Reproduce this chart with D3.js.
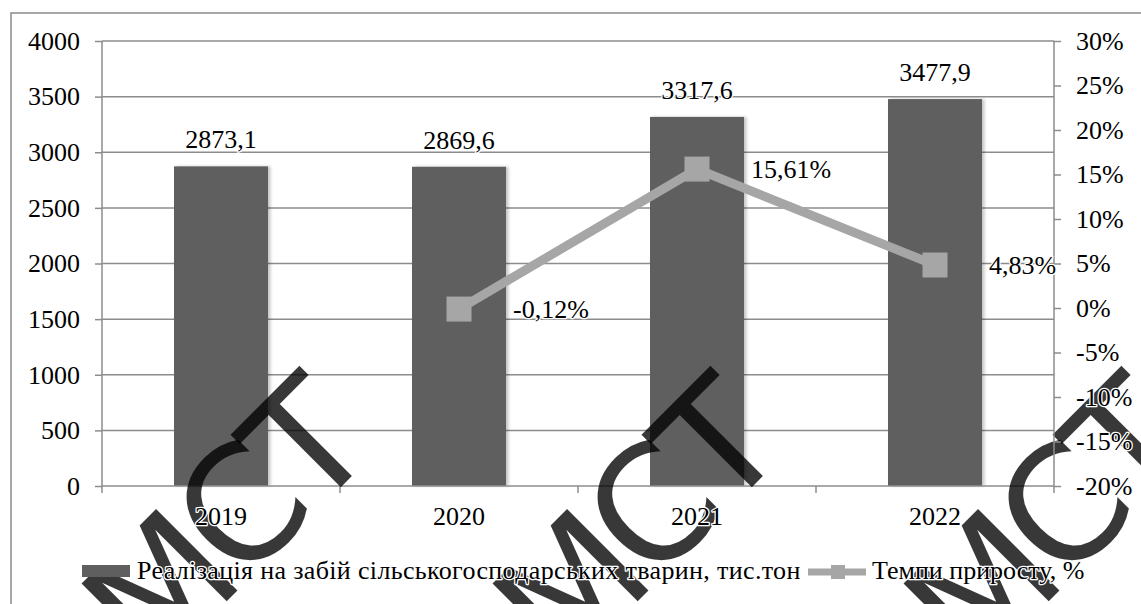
<!DOCTYPE html>
<html>
<head>
<meta charset="utf-8">
<script src="https://cdn.jsdelivr.net/npm/d3@7/dist/d3.min.js"></script>
<style>
  html, body { margin: 0; padding: 0; background: #ffffff; }
  svg { display: block; }
</style>
</head>
<body>
<svg id="chart" width="1141" height="604"></svg>
<script>
// ---- data ----
const years = ["2019", "2020", "2021", "2022"];
const slaughterValues = [2873.1, 2869.6, 3317.6, 3477.9];
const growthRates = [null, -0.12, 15.61, 4.83];
const leftTicks = [0, 500, 1000, 1500, 2000, 2500, 3000, 3500, 4000];
const rightTicks = [-20, -15, -10, -5, 0, 5, 10, 15, 20, 25, 30];
const seriesNames = ["Реалізація на забій сільськогосподарських тварин, тис.тон", "Темпи приросту, %"];
const watermarkText = "МСТ";
const watermarkCount = 3;

// ---- layout ----
const W = 1141, H = 604;
const plot = { left: 102, right: 1054, top: 41, bottom: 486 };
const FONT = "'Liberation Serif', 'Times New Roman', serif";
const FS = 26;
const gridColor = "#8c8c8c";
const barColor = "#5f5f5f";
const lineColor = "#a6a6a6";

const svg = d3.select("#chart");

const defs = svg.append("defs");
const f = defs.append("filter").attr("id", "shadow").attr("x", "-10%").attr("y", "-5%").attr("width", "130%").attr("height", "110%");
f.append("feDropShadow").attr("dx", 2.5).attr("dy", 0).attr("stdDeviation", 1.5)
  .attr("flood-color", "#000").attr("flood-opacity", 0.22);

// outer chart-area border (left and top visible)
svg.append("path")
  .attr("d", `M11,${H + 5} L11,13 L${W + 5},13`)
  .attr("fill", "none").attr("stroke", gridColor).attr("stroke-width", 1.5);

const x = d3.scaleBand().domain(years).range([plot.left, plot.right]).padding(0);
const yL = d3.scaleLinear().domain([0, 4000]).range([plot.bottom, plot.top]);
const yR = d3.scaleLinear().domain([-20, 30]).range([plot.bottom, plot.top]);

// gridlines
svg.append("g").selectAll("line").data(leftTicks.filter(d => d > 0)).join("line")
  .attr("x1", plot.left).attr("x2", plot.right)
  .attr("y1", d => yL(d)).attr("y2", d => yL(d))
  .attr("stroke", gridColor).attr("stroke-width", 1.5);

// bars
const barW = x.bandwidth() * 0.395;
svg.append("g").selectAll("rect").data(years).join("rect")
  .attr("x", d => x(d) + (x.bandwidth() - barW) / 2)
  .attr("width", barW)
  .attr("y", (d, i) => yL(slaughterValues[i]))
  .attr("height", (d, i) => yL(0) - yL(slaughterValues[i]))
  .attr("fill", barColor)
  .attr("filter", "url(#shadow)");

// left axis
const axL = svg.append("g").attr("transform", `translate(${plot.left},0)`)
  .call(d3.axisLeft(yL).tickValues(leftTicks).tickSize(7).tickPadding(15).tickFormat(d3.format("d")));
// right axis
const axR = svg.append("g").attr("transform", `translate(${plot.right},0)`)
  .call(d3.axisRight(yR).tickValues(rightTicks).tickSize(7).tickPadding(15).tickFormat(d => String(d) + "%"));
[axL, axR].forEach(ax => {
  ax.select(".domain").attr("stroke", gridColor).attr("stroke-width", 1.5);
  ax.selectAll(".tick line").attr("stroke", gridColor).attr("stroke-width", 1.5);
  ax.selectAll(".tick text").attr("class", "lbl");
});
axL.select(".domain").attr("d", `M0,${plot.top}V${plot.bottom}`);
axR.select(".domain").attr("d", `M0,${plot.top}V${plot.bottom}`);

// bottom axis
const bx = svg.append("g");
bx.append("line").attr("x1", plot.left).attr("x2", plot.right)
  .attr("y1", plot.bottom).attr("y2", plot.bottom)
  .attr("stroke", gridColor).attr("stroke-width", 1.5);
const boundaries = years.map(d => x(d)).concat([x(years[years.length - 1]) + x.bandwidth()]);
bx.selectAll("line.tk").data(boundaries).join("line").attr("class", "tk")
  .attr("x1", d => d).attr("x2", d => d)
  .attr("y1", plot.bottom).attr("y2", plot.bottom + 7)
  .attr("stroke", gridColor).attr("stroke-width", 1.5);

// growth line
const pts = years.map((d, i) => ({ year: d, v: growthRates[i] })).filter(p => p.v !== null);
const line = d3.line().x(p => x(p.year) + x.bandwidth() / 2).y(p => yR(p.v));
svg.append("path").datum(pts).attr("d", line)
  .attr("fill", "none").attr("stroke", lineColor).attr("stroke-width", 9).attr("stroke-linejoin", "miter");
const MS = 25;
svg.append("g").selectAll("rect").data(pts).join("rect")
  .attr("x", p => x(p.year) + x.bandwidth() / 2 - MS / 2)
  .attr("y", p => yR(p.v) - MS / 2)
  .attr("width", MS).attr("height", MS)
  .attr("fill", lineColor);

// watermark (start points of the rotated baseline)
const wm = svg.append("g");
const wmStarts = d3.range(watermarkCount).map(i => [152 + i * 411, 676]);
wm.selectAll("text").data(wmStarts).join("text")
  .attr("transform", d => `translate(${d[0]},${d[1]}) rotate(-45)`)
  .attr("text-anchor", "start")
  .attr("font-family", "'DejaVu Sans', sans-serif")
  .attr("font-size", 158)
  .attr("letter-spacing", -10)
  .attr("fill", "#000").attr("fill-opacity", 0.78)
  .text(watermarkText);

// raise axis text above watermark
const textLayer = svg.append("g");
textLayer.node().appendChild(axL.node());
textLayer.node().appendChild(axR.node());

const fmtNum = v => d3.format(".1f")(v).replace(".", ",");
const fmtPct = v => (v < 0 ? "-" : "") + d3.format(".2f")(Math.abs(v)).replace(".", ",") + "%";

// x labels
textLayer.append("g").selectAll("text").data(years).join("text").attr("class", "lbl")
  .attr("x", d => x(d) + x.bandwidth() / 2).attr("y", 525)
  .attr("text-anchor", "middle").text(d => d);

// bar value labels
textLayer.append("g").selectAll("text").data(years).join("text").attr("class", "lbl")
  .attr("x", d => x(d) + x.bandwidth() / 2)
  .attr("y", (d, i) => yL(slaughterValues[i]) - 18)
  .attr("text-anchor", "middle").text((d, i) => fmtNum(slaughterValues[i]));

// line labels
textLayer.append("g").selectAll("text").data(pts).join("text").attr("class", "lbl")
  .attr("x", p => x(p.year) + x.bandwidth() / 2 + 54)
  .attr("y", p => yR(p.v) + 9)
  .attr("text-anchor", "start").text(p => fmtPct(p.v));

// legend
const lg = textLayer.append("g");
lg.append("rect").attr("x", 82).attr("y", 565).attr("width", 48).attr("height", 12).attr("fill", barColor);
lg.append("text").attr("class", "lbl").attr("x", 137).attr("y", 579).attr("letter-spacing", 0.35).text(seriesNames[0]);
lg.append("line").attr("x1", 808).attr("x2", 866).attr("y1", 572).attr("y2", 572)
  .attr("stroke", lineColor).attr("stroke-width", 7);
lg.append("rect").attr("x", 831).attr("y", 565).attr("width", 14).attr("height", 14).attr("fill", lineColor);
lg.append("text").attr("class", "lbl").attr("x", 872).attr("y", 579).text(seriesNames[1]);

svg.selectAll("text.lbl")
  .attr("font-family", FONT).attr("font-size", FS).attr("fill", "#000")
  .attr("stroke", "#fff").attr("stroke-width", 2.5).attr("paint-order", "stroke")
  .attr("stroke-linejoin", "round");
</script>
</body>
</html>
